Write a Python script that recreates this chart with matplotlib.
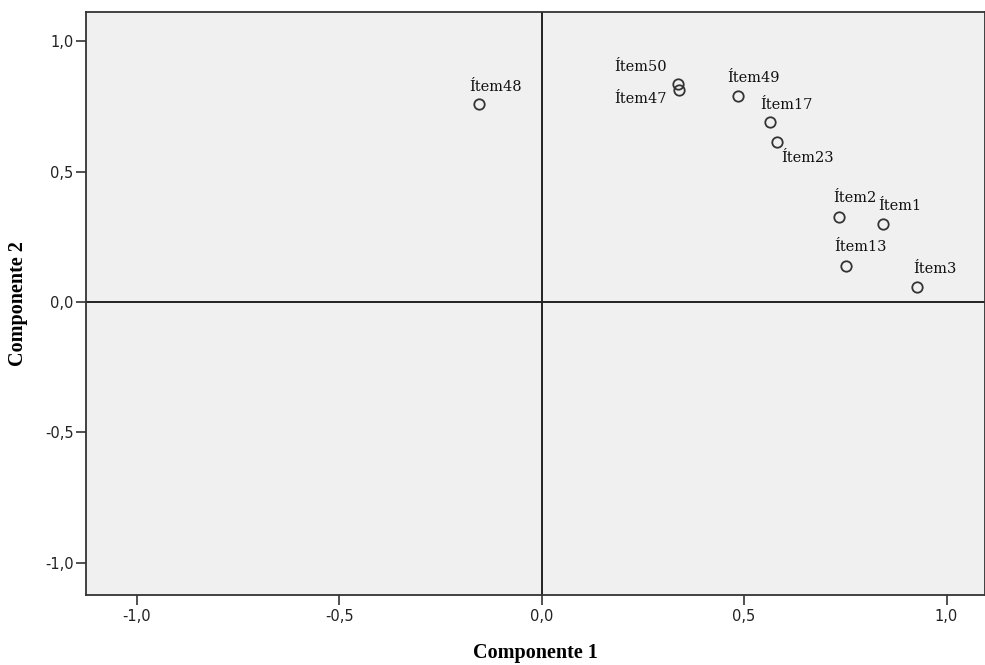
import matplotlib.pyplot as plt

# Component loadings
items = ["Ítem48", "Ítem50", "Ítem47", "Ítem49", "Ítem17", "Ítem23",
         "Ítem2", "Ítem1", "Ítem13", "Ítem3"]
comp1 = [-0.155, 0.338, 0.340, 0.484, 0.565, 0.582, 0.735, 0.843, 0.752, 0.927]
comp2 = [0.760, 0.837, 0.814, 0.791, 0.691, 0.614, 0.326, 0.299, 0.138, 0.058]

ticks = [-1.0, -0.5, 0.0, 0.5, 1.0]
tick_labels = ["-1,0", "-0,5", "0,0", "0,5", "1,0"]

# label offsets in pixels (left edge / bottom of text relative to marker)
offsets = [(-10, 10), (-64, 10), (-65, -16), (-10, 11), (-10, 10), (4, -23),
           (-6, 12), (-5, 11), (-12, 12), (-4, 11)]

fig = plt.figure(figsize=(9.85, 6.65), dpi=100)
ax = fig.add_axes([0.0873, 0.105, 0.9127, 0.877])
ax.set_facecolor("#f0f0f0")

ax.axhline(0, color="#222222", lw=1.4, zorder=1)
ax.axvline(0, color="#222222", lw=1.4, zorder=1)

ax.plot(comp1, comp2, "o", mfc="none", mec="#333333", mew=1.3, ms=7.5, zorder=3)

for name, x, y, (dx, dy) in zip(items, comp1, comp2, offsets):
    ax.annotate(name, (x, y), xytext=(dx, dy), textcoords="offset pixels",
                ha="left", va="bottom", fontsize=10.5,
                family="DejaVu Serif", color="#111111")

ax.set_xlim(-1.125, 1.095)
ax.set_ylim(-1.125, 1.113)
ax.set_xticks(ticks)
ax.set_xticklabels(tick_labels)
ax.set_yticks(ticks)
ax.set_yticklabels(tick_labels)
ax.tick_params(direction="out", length=7, width=1.2, color="#333333",
               labelsize=10.5, labelcolor="#222222", pad=2)
ax.tick_params(axis="x", pad=3)

for s in ax.spines.values():
    s.set_color("#333333")
    s.set_linewidth(1.3)

ax.set_xlabel("Componente 1", fontsize=14.5, fontweight="bold",
              family="Liberation Serif")
ax.xaxis.set_label_coords(0.5, -0.082)
ax.set_ylabel("Componente 2", fontsize=14.5, fontweight="bold",
              family="Liberation Serif", labelpad=12)

plt.savefig("out.png", dpi=100)
plt.close()
